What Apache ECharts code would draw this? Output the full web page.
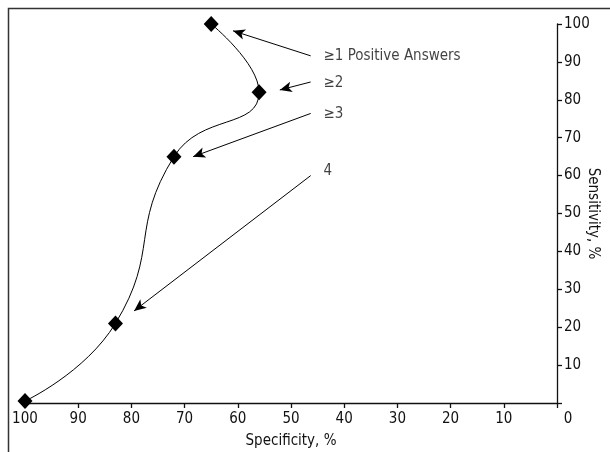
<!DOCTYPE html>
<html><head><meta charset="utf-8">
<script src="https://cdn.jsdelivr.net/npm/echarts@6/dist/echarts.min.js"></script>
<style>html,body{margin:0;padding:0;background:#fff}#c{width:610px;height:452px}</style>
</head><body><div id="c"></div>
<script>
// Data
var specificity = [100, 83, 72, 56, 65];
var sensitivity = [0.5, 21, 65, 82, 100];
var annotationLabels = ['\u22651 Positive Answers', '\u22652', '\u22653', '4'];
var labelSpec = [43.9, 43.9, 43.9, 43.9];
var labelSens = [91.6, 84.3, 76.3, 61.1];
var arrowFrom = [[46.3, 91.6], [46.3, 84.7], [46.3, 76.4], [46.3, 60.0]];
var arrowTo = [[60.9, 98.2], [52.1, 82.6], [68.4, 65.0], [79.5, 24.3]];
var xTicks = [0, 10, 20, 30, 40, 50, 60, 70, 80, 90, 100];
var yTicks = [10, 20, 30, 40, 50, 60, 70, 80, 90, 100];

var FONT = '"Liberation Sans Narrow", "DejaVu Sans Condensed", "Roboto Condensed", sans-serif';
var TXT = '#111';
var curve = specificity.map(function (s, i) { return [s, sensitivity[i]]; });
var labelPts = annotationLabels.map(function (n, i) { return { name: n, value: [labelSpec[i], labelSens[i]] }; });
var arrows = arrowFrom.map(function (f, i) { return [{ coord: f }, { coord: arrowTo[i] }]; });

var chart = echarts.init(document.getElementById('c'), null, { renderer: 'canvas' });
chart.setOption({
  animation: false,
  backgroundColor: '#fff',
  textStyle: { fontFamily: FONT },
  grid: { left: 25, right: 53, top: 24, bottom: 49, containLabel: false, outerBoundsMode: 'none' },
  graphic: [{
    type: 'rect', silent: true, z: 100,
    shape: { x: 8.5, y: 8.5, width: 700, height: 600 },
    style: { fill: 'none', stroke: '#333', lineWidth: 1.5 }
  }],
  xAxis: {
    type: 'value', inverse: true, min: 0, max: 100, interval: 10,
    name: 'Specificity, %', nameLocation: 'middle', nameGap: 31, nameMoveOverlap: false,
    nameTextStyle: { fontFamily: FONT, fontSize: 15, color: TXT },
    axisLine: { show: true, onZero: false, lineStyle: { color: '#111', width: 1.3 } },
    axisTick: { show: true, inside: false, length: 5, lineStyle: { color: '#111', width: 1.3 } },
    axisLabel: {
      margin: 9, fontFamily: FONT, fontSize: 15, color: TXT,
      formatter: function (v) { return xTicks.indexOf(v) < 0 ? '' : (v === 0 ? '{z|0}' : String(v)); },
      rich: { z: { fontFamily: FONT, fontSize: 15, color: TXT, padding: [0, 0, 0, 22] } }
    },
    splitLine: { show: false }
  },
  yAxis: {
    type: 'value', position: 'right', min: 0, max: 100, interval: 10,
    name: 'Sensitivity, %', nameLocation: 'middle', nameGap: 28, nameRotate: -90, nameMoveOverlap: false,
    nameTextStyle: { fontFamily: FONT, fontSize: 15, color: TXT },
    axisLine: { show: true, onZero: false, lineStyle: { color: '#111', width: 1.3 } },
    axisTick: { show: true, inside: false, length: 5, lineStyle: { color: '#111', width: 1.3 } },
    axisLabel: {
      margin: 7, fontFamily: FONT, fontSize: 15, color: TXT,
      formatter: function (v) { return yTicks.indexOf(v) < 0 ? '' : String(v); }
    },
    splitLine: { show: false }
  },
  series: [{
    type: 'line', data: curve, smooth: 0.5,
    symbol: 'diamond', symbolSize: [15, 16], showSymbol: true,
    itemStyle: { color: '#000' },
    lineStyle: { color: '#000', width: 1 },
    z: 3
  }, {
    type: 'scatter', data: labelPts, symbolSize: 0, silent: true,
    label: { show: true, position: 'right', distance: 0, formatter: '{b}',
      fontFamily: FONT, fontSize: 15, color: TXT },
    markLine: {
      silent: true, symbol: ['none', 'arrow'], symbolSize: [8, 12],
      label: { show: false },
      lineStyle: { color: '#000', width: 1, type: 'solid' },
      emphasis: { disabled: true },
      data: arrows
    }
  }]
});
</script></body></html>
